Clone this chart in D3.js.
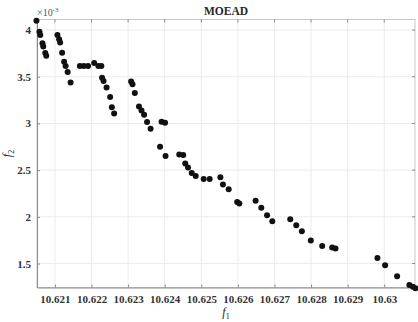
<!DOCTYPE html>
<html>
<head>
<meta charset="utf-8">
<script src="https://cdn.jsdelivr.net/npm/d3@7"></script>
<style>
  body { margin: 0; background: #fff; }
  text { font-family: "Liberation Serif", "Times New Roman", serif; }
</style>
</head>
<body>
<div id="chart"></div>
<script>
// Pareto front points (f1, f2 in units of 1e-3)
const f1 = [
  10.620495, 10.620577, 10.620599, 10.620659, 10.620681, 10.620735, 10.620763,
  10.621068, 10.621115, 10.621142, 10.621196, 10.621251, 10.621292, 10.621347, 10.621428,
  10.621682, 10.621791, 10.621906, 10.622072, 10.622187, 10.622269,
  10.622288, 10.622329, 10.622411, 10.622509, 10.622555, 10.622618,
  10.623082, 10.623120, 10.623183, 10.623297, 10.623366, 10.623437, 10.623518, 10.623614,
  10.623914, 10.624010, 10.623873, 10.624023,
  10.624397, 10.624506, 10.624561, 10.624637, 10.624738, 10.624847,
  10.625065, 10.625229, 10.625521, 10.625592, 10.625748, 10.625980, 10.626040,
  10.626484, 10.626640, 10.626798, 10.626940,
  10.627431, 10.627595, 10.627748, 10.627993, 10.628304, 10.628577, 10.628667,
  10.629813, 10.630023, 10.630351, 10.630686, 10.630782, 10.630850
]
const f2 = [
  4.100, 3.982, 3.946, 3.857, 3.823, 3.754, 3.725,
  3.946, 3.901, 3.866, 3.757, 3.660, 3.614, 3.550, 3.437,
  3.616, 3.616, 3.616, 3.646, 3.616, 3.614,
  3.489, 3.454, 3.384, 3.282, 3.172, 3.107,
  3.450, 3.418, 3.325, 3.182, 3.137, 3.092, 3.014, 2.942,
  3.017, 3.007, 2.750, 2.652,
  2.668, 2.661, 2.572, 2.529, 2.468, 2.436,
  2.406, 2.406, 2.425, 2.347, 2.296, 2.160, 2.143,
  2.171, 2.098, 2.018, 1.953,
  1.975, 1.911, 1.846, 1.747, 1.689, 1.672, 1.661,
  1.560, 1.482, 1.364, 1.271, 1.252, 1.236
]
const xTicks = [10.621, 10.622, 10.623, 10.624, 10.625, 10.626, 10.627, 10.628, 10.629, 10.63]
const yTicks = [1.5, 2, 2.5, 3, 3.5, 4]

const W = 418, H = 322
const margin = { top: 19.5, right: 3, bottom: 34.5, left: 37 }
const wdt = W - margin.left - margin.right,
  ht = H - margin.top - margin.bottom

const svg = d3.select('#chart')
  .append('svg')
  .attr('width', W)
  .attr('height', H)

const g = svg.append('g')
  .attr('transform', `translate(${margin.left}, ${margin.top})`)

const x = d3.scaleLinear().domain([10.62051, 10.63084]).range([0, wdt])
const y = d3.scaleLinear().domain([1.2435, 4.1125]).range([ht, 0])

// grid
g.append('g')
  .selectAll('line')
  .data(xTicks)
  .join('line')
  .attr('x1', d => x(d)).attr('x2', d => x(d))
  .attr('y1', 0).attr('y2', ht)
  .attr('stroke', '#ebebeb')
g.append('g')
  .selectAll('line')
  .data(yTicks)
  .join('line')
  .attr('y1', d => y(d)).attr('y2', d => y(d))
  .attr('x1', 0).attr('x2', wdt)
  .attr('stroke', '#ebebeb')

// box (top/right lighter, like MATLAB)
g.append('rect')
  .attr('width', wdt).attr('height', ht)
  .attr('fill', 'none')
  .attr('stroke', '#c8c8c8')

// axes
const xAxis = g.append('g')
  .attr('transform', `translate(0, ${ht})`)
  .call(d3.axisBottom(x).tickValues(xTicks).tickSizeInner(-3).tickSizeOuter(0)
    .tickPadding(8).tickFormat(d => d3.format('')(+d.toFixed(3))))
const yAxis = g.append('g')
  .call(d3.axisLeft(y).tickValues(yTicks).tickSizeInner(-3).tickSizeOuter(0)
    .tickPadding(6).tickFormat(d => d))

;[xAxis, yAxis].forEach(a => {
  a.select('.domain').attr('stroke', '#8a8a8a')
  a.selectAll('.tick line').attr('stroke', '#8a8a8a')
  a.selectAll('.tick text')
    .attr('fill', '#333')
    .attr('font-size', '11px')
    .attr('font-weight', 'bold')
    .attr('font-family', '"Liberation Serif", serif')
})

// top / right ticks
g.append('g').selectAll('line').data(xTicks).join('line')
  .attr('x1', d => x(d)).attr('x2', d => x(d))
  .attr('y1', 0).attr('y2', 3).attr('stroke', '#8a8a8a')
g.append('g').selectAll('line').data(yTicks).join('line')
  .attr('y1', d => y(d)).attr('y2', d => y(d))
  .attr('x1', wdt).attr('x2', wdt - 3).attr('stroke', '#8a8a8a')

// points
g.append('g')
  .selectAll('circle')
  .data(f1.map((d, i) => [d, f2[i]]))
  .join('circle')
  .attr('cx', d => x(d[0]))
  .attr('cy', d => y(d[1]))
  .attr('r', 3)
  .attr('fill', '#111')

// title
svg.append('text')
  .attr('x', margin.left + wdt / 2)
  .attr('y', 15)
  .attr('text-anchor', 'middle')
  .attr('font-size', '11.5px')
  .attr('font-weight', 'bold')
  .attr('fill', '#262626')
  .text('MOEAD')

// exponent label
const ex = svg.append('text')
  .attr('x', margin.left)
  .attr('y', 16)
  .attr('font-size', '10px')
  .attr('fill', '#555')
ex.append('tspan').text('\u00d710')
ex.append('tspan').attr('dy', -4).attr('font-size', '7px').text('-3')

// axis labels
const xl = svg.append('text')
  .attr('x', margin.left + wdt / 2)
  .attr('y', 316)
  .attr('text-anchor', 'middle')
  .attr('font-size', '12px')
  .attr('fill', '#262626')
xl.append('tspan').attr('font-style', 'italic').text('f')
xl.append('tspan').attr('dy', 3).attr('font-size', '8px').text('1')

const yl = svg.append('text')
  .attr('transform', `translate(11, ${margin.top + ht / 2}) rotate(-90)`)
  .attr('text-anchor', 'middle')
  .attr('font-size', '12px')
  .attr('fill', '#262626')
yl.append('tspan').attr('font-style', 'italic').text('f')
yl.append('tspan').attr('dy', 3).attr('font-size', '8px').text('2')
</script>
</body>
</html>
